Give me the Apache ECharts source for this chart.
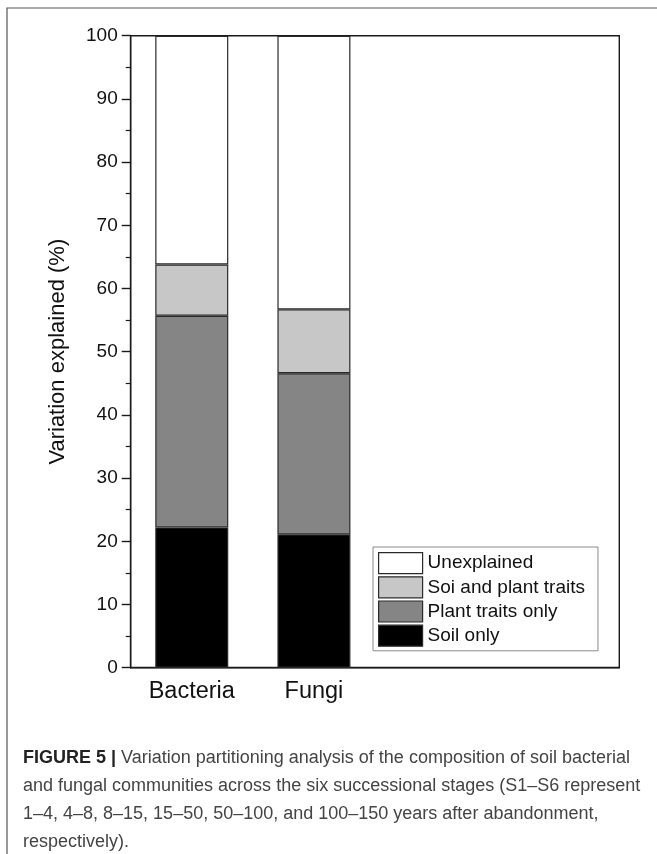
<!DOCTYPE html>
<html>
<head>
<meta charset="utf-8">
<script src="https://cdn.jsdelivr.net/npm/echarts@6/dist/echarts.min.js"></script>
<style>
html,body{margin:0;padding:0;background:#fff;}
#chart{width:657px;height:854px;}
</style>
</head>
<body>
<div id="chart"></div>
<script>
// ---- data ----
const categories = ['Bacteria', 'Fungi', '', ''];
const seriesNames = ['Soil only', 'Plant traits only', 'Soi and plant traits', 'Unexplained'];
const soilOnly = [22.2, 21.1, null, null];
const plantTraitsOnly = [33.5, 25.5, null, null];
const soilAndPlant = [8.1, 10.1, null, null];
const unexplained = [36.2, 43.3, null, null];
const yTicks = [0, 10, 20, 30, 40, 50, 60, 70, 80, 90, 100];
const legendOrder = ['Unexplained', 'Soi and plant traits', 'Plant traits only', 'Soil only'];
const captionBold = 'FIGURE 5 |';
const captionLines = [
  ' Variation partitioning analysis of the composition of soil bacterial',
  'and fungal communities across the six successional stages (S1\u2013S6 represent',
  '1\u20134, 4\u20138, 8\u201315, 15\u201350, 50\u2013100, and 100\u2013150 years after abandonment,',
  'respectively).'
];

const colors = ['#000000', '#858585', '#c7c7c7', '#ffffff'];
const values = [soilOnly, plantTraitsOnly, soilAndPlant, unexplained];

const baseFont = "'Liberation Sans', Arial, Helvetica, sans-serif";
// fit caption font to reference width
const capFont = "'Liberation Sans Narrow', 'Liberation Sans', Arial, sans-serif";
const cv = document.createElement('canvas').getContext('2d');
cv.font = 'bold 16px ' + capFont;
const wb = cv.measureText(captionBold).width;
cv.font = '16px ' + capFont;
const wr = cv.measureText(captionLines[0]).width;
let capSize = 16 * 614 / (wb + wr);
capSize = Math.max(12, Math.min(18, capSize));

const chart = echarts.init(document.getElementById('chart'), null, {renderer: 'canvas'});

const series = seriesNames.map((n, i) => ({
  name: n,
  type: 'bar',
  stack: 'total',
  barWidth: 73,
  data: values[i],
  itemStyle: {color: colors[i], borderColor: '#2a2a2a', borderWidth: 1.2},
  emphasis: {disabled: true},
  animation: false
}));

chart.setOption({
  animation: false,
  backgroundColor: '#fff',
  grid: {
    left: 130.7, top: 35.7, right: 37.7, bottom: 186.3,
    show: true, borderColor: '#1a1a1a', borderWidth: 1.4, backgroundColor: 'transparent'
  },
  legend: {
    data: legendOrder,
    orient: 'vertical',
    left: 373, top: 547,
    itemWidth: 44, itemHeight: 21, itemGap: 2,
    padding: [5, 13, 4, 5],
    borderColor: '#8a8a8a', borderWidth: 1,
    icon: 'rect',
    itemStyle: {borderColor: '#2a2a2a', borderWidth: 1.2},
    textStyle: {fontSize: 19, lineHeight: 20, color: '#111', fontFamily: baseFont},
    selectedMode: false
  },
  xAxis: {
    type: 'category',
    data: categories,
    axisLine: {lineStyle: {color: '#1a1a1a', width: 1.4}},
    axisTick: {alignWithLabel: true, length: 8, lineStyle: {color: '#1a1a1a', width: 1.4}},
    axisLabel: {fontSize: 23.5, color: '#111', margin: 12, fontFamily: baseFont},
    splitLine: {show: false}
  },
  yAxis: {
    type: 'value',
    min: 0, max: 100, interval: 10,
    name: 'Variation explained (%)',
    nameLocation: 'middle',
    nameGap: 62,
    nameTextStyle: {fontSize: 22, color: '#111', fontFamily: baseFont},
    axisLine: {show: true, lineStyle: {color: '#1a1a1a', width: 1.4}},
    axisTick: {show: true, length: 9, lineStyle: {color: '#1a1a1a', width: 1.4}},
    minorTick: {show: true, splitNumber: 2, length: 5, lineStyle: {color: '#1a1a1a', width: 1.2}},
    axisLabel: {fontSize: 19, color: '#111', margin: 13, fontFamily: baseFont,
      formatter: v => yTicks.indexOf(v) >= 0 ? String(v) : ''},
    splitLine: {show: false}
  },
  series: series,
  graphic: [
    {type: 'rect', shape: {x: 7, y: 8, width: 700, height: 900}, silent: true,
     style: {fill: null, stroke: '#555', lineWidth: 1.2}},
    {type: 'text', left: 23, top: 744, silent: true,
     style: {
       text: '{b|' + captionBold + '}' + captionLines[0] + '\n' + captionLines.slice(1).join('\n'),
       fontSize: capSize,
       fontFamily: capFont,
       fill: '#444',
       lineHeight: 28,
       rich: {
         b: {fontWeight: 'bold', fontSize: capSize, fontFamily: capFont, fill: '#222', lineHeight: 28}
       }
     }}
  ]
});
</script>
</body>
</html>
